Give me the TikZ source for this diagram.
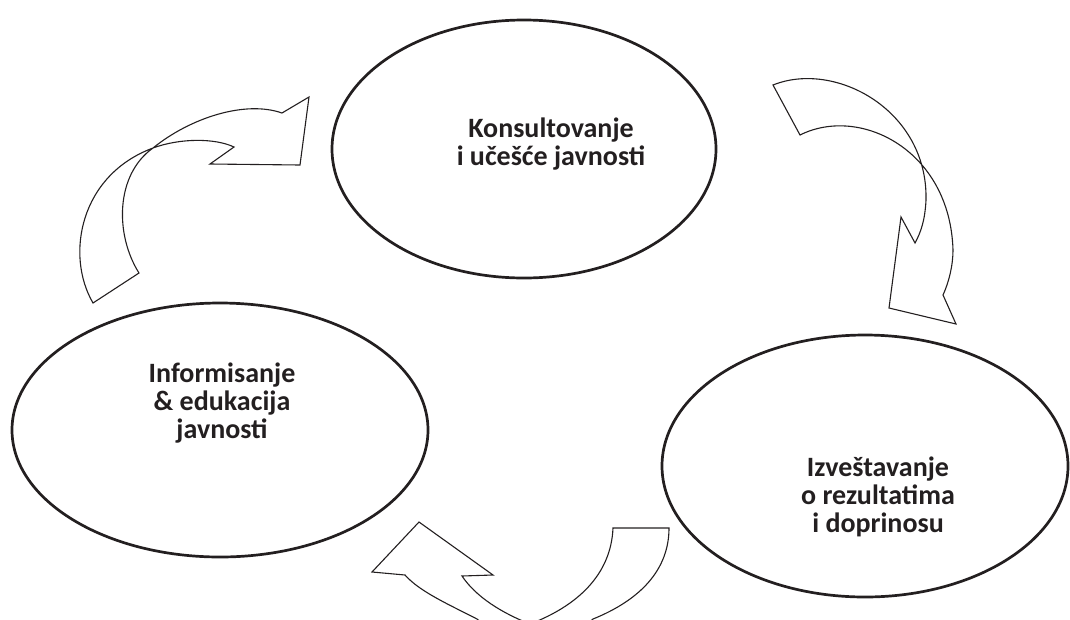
\documentclass[tikz,border=0pt]{standalone}
\usepackage{fontspec}
\setmainfont{Carlito}
\definecolor{ink}{HTML}{231F20}
\begin{document}
\begin{tikzpicture}[x=1pt,y=-1pt,
  oval/.style={draw=ink,line width=2.7pt},
  ribbon/.style={draw=ink,line width=1.1pt,fill=white,line join=miter},
  label/.style={align=center,font=\fontsize{28}{28}\selectfont\bfseries,text=ink,inner sep=0pt}]
\useasboundingbox (0,0) rectangle (1070,619);
\begin{scope}
\clip (0,0) rectangle (1070,619);
% ellipses
\draw[oval] (524,149) ellipse [x radius=192, y radius=129];
\draw[oval] (220,430) ellipse [x radius=208, y radius=127];
\draw[oval] (865,466) ellipse [x radius=203, y radius=131];
% top-left arrow
\draw[ribbon] (93,303) -- (139,273)
  .. controls (115,235) and (115,175) .. (153,148)
  .. controls (190,118) and (245,100) .. (282,113)
  -- (309,97) -- (300,165) -- (210,164) -- (234,147)
  .. controls (215,138) and (180,138) .. (153,148)
  .. controls (80,175) and (65,255) .. (93,303) -- cycle;
% right arrow
\draw[ribbon] (773,85) -- (800,135)
  .. controls (860,105) and (950,150) .. (953,250)
  .. controls (953,265) and (949,282) .. (943,295)
  -- (956,324) -- (889,308) -- (901,217) -- (915,243)
  .. controls (921,232) and (925,220) .. (926,200)
  .. controls (928,110) and (835,60) .. (773,85) -- cycle;
% bottom arrow
\draw[ribbon] (613,528) -- (669,528)
  .. controls (669,570) and (640,600) .. (593,619)
  .. controls (570,640) and (500,640) .. (477,619)
  .. controls (450,605) and (420,592) .. (405,575)
  -- (372,572) -- (419,522) -- (493,575) -- (462,576)
  .. controls (476,597) and (502,613) .. (530,624)
  .. controls (577,606) and (611,575) .. (613,528) -- cycle;
\end{scope}
% texts
\node[label] (konsult) at (551,144) {Konsultovanje\\i učešće javnosti};
\node[label] (inform) at (222,403) {Informisanje\\\& edukacija\\javnosti};
\node[label] (izvest) at (878,497) {Izveštavanje\\o rezultatima\\i doprinosu};
\end{tikzpicture}
\end{document}
